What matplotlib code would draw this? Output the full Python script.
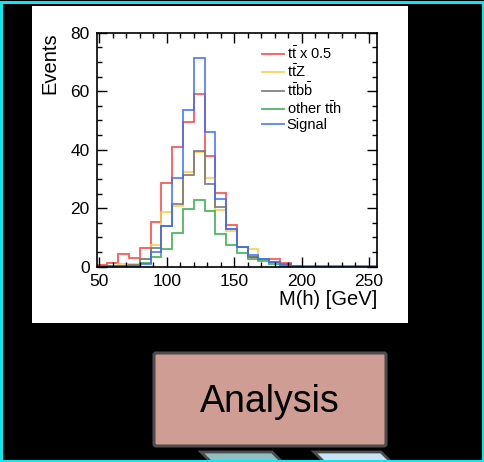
import matplotlib
matplotlib.use("Agg")
import matplotlib.pyplot as plt
from matplotlib.patches import Rectangle, FancyBboxPatch, Polygon
from matplotlib.ticker import MultipleLocator

plt.rcParams["font.family"] = ["Liberation Sans", "DejaVu Sans"]
plt.rcParams["mathtext.fontset"] = "custom"
plt.rcParams["mathtext.rm"] = "Liberation Sans"
plt.rcParams["mathtext.it"] = "Liberation Sans"

# bordes de los bins en M(h) [GeV]
bin_edges = [48, 56, 64, 72, 80, 88, 96, 104, 112, 120, 128, 136, 144, 152,
             160, 168, 176, 184, 192, 200, 208, 216, 224, 232, 240, 248, 256]

# eventos por bin
ttbar_half = [0.5, 1.1, 4.5, 3.0, 6.5, 15.4, 28.5, 40.8, 49.6, 59.0, 37.8, 25.3, 14.4,
              6.8, 3.2, 2.5, 2.8, 1.1, 0.3, 0, 0, 0, 0, 0, 0, 0]
ttz = [0.1, 0.2, 0.8, 1.0, 2.6, 7.4, 18.8, 20.7, 32.3, 39.3, 30.4, 19.4, 12.3,
       6.8, 5.9, 2.5, 1.7, 0.6, 0.1, 0, 0, 0, 0, 0, 0, 0]
ttbb = [0.1, 0.2, 0.4, 0.6, 2.8, 6.3, 13.9, 21.3, 31.3, 39.7, 28.3, 20.3, 12.8,
        6.6, 3.4, 2.5, 1.5, 0.6, 0.1, 0, 0, 0, 0, 0, 0, 0]
other_tth = [0.1, 0.1, 0.2, 0.4, 1.1, 3.4, 6.2, 11.6, 19.6, 22.8, 19.1, 11.2, 7.4,
             4.8, 2.5, 2.0, 0.9, 0.4, 0.1, 0, 0, 0, 0, 0, 0, 0]
signal = [0.2, 0.2, 0.2, 0.4, 1.0, 5.1, 13.9, 30.4, 53.6, 71.2, 45.9, 23.0, 12.8,
          6.6, 4.0, 2.8, 1.5, 0.9, 0.2, 0.1, 0.1, 0.1, 0.1, 0.1, 0.1, 0.1]

labels = [r"t$\mathrm{\bar{t}}$ x 0.5", r"t$\mathrm{\bar{t}}$Z", r"t$\mathrm{\bar{t}}$b$\mathrm{\bar{b}}$",
          r"other t$\mathrm{\bar{t}}$h", "Signal"]
colors = ["#ff3c3c", "#ffc840", "#6e6e6e", "#32aa46", "#3c6cff"]
series = [ttbar_half, ttz, ttbb, other_tth, signal]

W, H = 485, 462
fig = plt.figure(figsize=(W / 100, H / 100), dpi=100, facecolor="black")

# capa de fondo en pixeles: panel blanco, caja "Analysis", bordes
bg = fig.add_axes([0, 0, 1, 1], zorder=0)
bg.set_xlim(0, W)
bg.set_ylim(H, 0)
bg.axis("off")
bg.add_patch(Rectangle((32, 6), 376, 317, facecolor="white", edgecolor="none"))
bg.add_patch(FancyBboxPatch((154, 353), 232, 93, boxstyle="round,pad=0,rounding_size=2",
                            facecolor="#cf9d94", edgecolor="#4d4d4d", linewidth=2.2))
bg.text(270, 402, "Analysis", fontsize=27, ha="center", va="center", color="black")
bg.add_patch(Polygon([(201, 452), (272, 452), (286, 466), (215, 466)],
                     facecolor="#8fbfbe", edgecolor="#4d4d4d", linewidth=2.0))
bg.add_patch(Polygon([(314, 452), (381, 452), (395, 466), (328, 466)],
                     facecolor="#c9e1f4", edgecolor="#4d4d4d", linewidth=2.0))
bg.add_patch(Rectangle((1.5, 1.5), W - 3, H - 3, facecolor="none",
                       edgecolor="#10e6f0", linewidth=2.2))

ax = fig.add_axes([96.7 / W, 1 - 266.7 / H, 280.3 / W, 234 / H], zorder=1)
ax.set_facecolor("white")
for vals, col, lab in zip(series, colors, labels):
    ax.stairs(vals, bin_edges, color=col, linewidth=1.3, alpha=0.85, label=lab)

ax.set_xlim(48, 256)
ax.set_ylim(0, 80)
ax.xaxis.set_major_locator(MultipleLocator(50))
ax.xaxis.set_minor_locator(MultipleLocator(10))
ax.yaxis.set_major_locator(MultipleLocator(20))
ax.yaxis.set_minor_locator(MultipleLocator(5))
ax.tick_params(which="both", direction="in", top=True, right=True, labelsize=12.5, pad=5)
ax.tick_params(which="major", length=7, width=1)
ax.tick_params(which="minor", length=3.5, width=1)
for sp in ax.spines.values():
    sp.set_linewidth(1.2)

ax.text(-0.167, 1.0, "Events", rotation=90, ha="center", va="top", fontsize=14.5,
        transform=ax.transAxes)
ax.text(1.0, -0.142, "M(h) [GeV]", ha="right", va="center", fontsize=14.5,
        transform=ax.transAxes)

ax.legend(loc="upper left", bbox_to_anchor=(0.555, 0.99), frameon=False, fontsize=10.5,
          handlelength=1.45, handletextpad=0.2, labelspacing=0.08, borderpad=0.2)

fig.savefig("out.png", dpi=100, facecolor="black")
